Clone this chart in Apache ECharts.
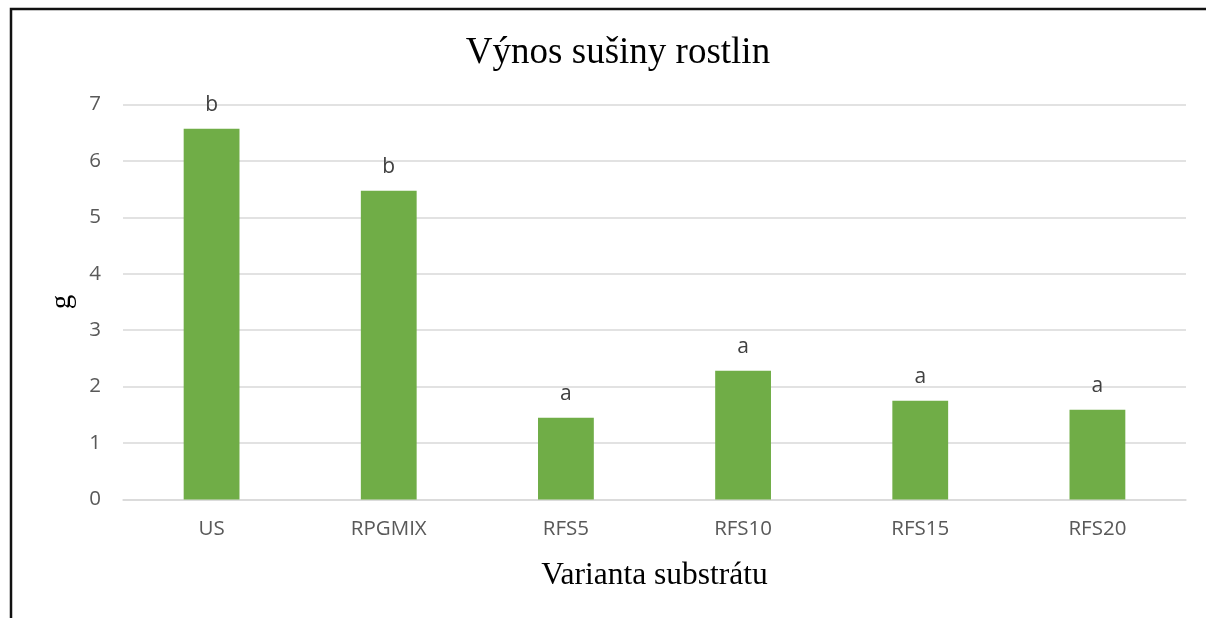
<!DOCTYPE html>
<html>
<head>
<meta charset="utf-8">
<script src="https://cdn.jsdelivr.net/npm/echarts@6/dist/echarts.min.js"></script>
<style>
html,body{margin:0;padding:0;background:#fff;}
#chart{width:1206px;height:618px;}
</style>
</head>
<body>
<div id="chart"></div>
<script>
const categories = ['US', 'RPGMIX', 'RFS5', 'RFS10', 'RFS15', 'RFS20'];
const values = [6.57, 5.47, 1.45, 2.28, 1.75, 1.59];
const letters = ['b', 'b', 'a', 'a', 'a', 'a'];
const yTicks = [0, 1, 2, 3, 4, 5, 6, 7];

const chart = echarts.init(document.getElementById('chart'));
chart.setOption({
  animation: false,
  backgroundColor: '#ffffff',
  title: {
    text: 'Výnos sušiny rostlin',
    left: 613,
    textAlign: 'center',
    top: 30,
    textStyle: {fontFamily: 'Liberation Serif', fontSize: 37, fontWeight: 'normal', color: '#000'}
  },
  graphic: [{
    type: 'rect',
    shape: {x: 11, y: 9, width: 1300, height: 700},
    style: {fill: 'none', stroke: '#111', lineWidth: 2.5},
    silent: true
  }],
  grid: {left: 123, right: 20, top: 104.5, bottom: 118.5},
  xAxis: {
    type: 'category',
    data: categories,
    axisLine: {show: true, lineStyle: {color: '#d9d9d9', width: 1.5}},
    axisTick: {show: false},
    axisLabel: {fontFamily: 'Open Sans', fontSize: 20.5, color: '#595959', margin: 19},
    name: 'Varianta substrátu',
    nameLocation: 'middle',
    nameGap: 60,
    nameTextStyle: {fontFamily: 'Liberation Serif', fontSize: 31.5, color: '#000'}
  },
  yAxis: {
    type: 'value',
    min: 0, max: 7, interval: 1,
    axisLine: {show: false},
    axisTick: {show: false},
    axisLabel: {
      fontFamily: 'Open Sans', fontSize: 20.5, color: '#595959', margin: 22,
      formatter: v => yTicks.includes(v) ? String(v) : ''
    },
    splitLine: {lineStyle: {color: '#d9d9d9', width: 1.5}},
    name: 'g',
    nameLocation: 'middle',
    nameGap: 46,
    nameRotate: 90,
    nameTextStyle: {fontFamily: 'Liberation Serif', fontSize: 29, color: '#000'}
  },
  series: [{
    type: 'bar',
    data: values,
    barWidth: '31.5%',
    itemStyle: {color: '#70ad47'},
    label: {
      show: true,
      position: 'top',
      distance: 13,
      formatter: p => letters[p.dataIndex],
      fontFamily: 'Open Sans', fontSize: 21, color: '#404040'
    }
  }]
});
</script>
</body>
</html>
